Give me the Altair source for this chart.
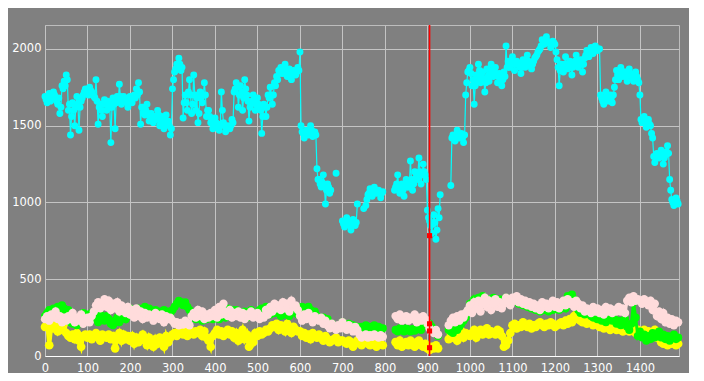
import altair as alt
import pandas as pd

# sample positions (every 5 units from 0 to 1490)
x_values = list(range(0, 1495, 5))
# in-between sample positions for the dense cyan series (2.5, 7.5, ...)
x_half = [v + 2.5 for v in x_values]

# cyan series (top), samples at x_values
cyan = [
    1690, 1650, 1710, 1670, 1720, 1680, 1640, 1580, 1760, 1790,
    1830, 1600, 1440, 1650, 1500, 1690, 1470, 1660, 1700, 1740,
    1710, 1750, 1720, 1690, 1800, 1510, 1640, 1560, 1670, 1600,
    1650, 1390, 1680, 1480, 1690, 1770, 1640, 1690, 1660, 1620,
    1690, 1650, 1700, 1740, 1780, 1510, 1620, 1570, 1640, 1530,
    1580, 1520, 1560, 1600, 1500, 1560, 1480, 1570, 1530, 1440,
    1740, 1850, 1900, 1940, 1860, 1550, 1700, 1600, 1800, 1580,
    1830, 1600, 1520, 1720, 1650, 1780, 1560, 1600, 1520, 1480,
    1550, 1490, 1470, 1720, 1520, 1460, 1500, 1480, 1540, 1720,
    1780, 1620, 1760, 1600, 1800, 1700, 1530, 1640, 1700, 1600,
    1680, 1620, 1450, 1640, 1560, 1700, 1750, 1640, 1780, 1820,
    1860, 1880, 1840, 1900, 1820, 1870, 1800, 1860, 1830, 1880,
    1980, 1460, 1420, 1470, 1440, 1500, 1430, 1460, 1220, 1150,
    1100, 1180, 990, 1120, 1060, None, None, 1190, None, None,
    880, 840, 900, 870, 820, 890, 850, 990, None, None,
    960, 980, 1050, 1090, 1040, 1100, 1060, 1080, 1030, 1070,
    None, None, None, None, None, 1100, 1180, 1060, 1120, 1040,
    1150, 1100, 1270, 1080, 1200, 1150, 1290, 1120, 1250, 1180,
    950, 880, 800, 920, 760, 960, 1050, None, None, None,
    None, 1110, 1440, 1400, 1470, 1420, 1450, 1390, 1700, 1850,
    1880, 1760, 1640, 1830, 1900, 1780, 1850, 1720, 1870, 1790,
    1900, 1820, 1880, 1780, 1840, 1760, 1850, 2020, 1920, 1880,
    1950, 1860, 1920, 1900, 1840, 1930, 1880, 1960, 1900, 1870,
    1920, 1950, 1980, 2000, 2060, 2030, 2080, 2040, 2010, 2050,
    2030, 1930, 1760, 1900, 1850, 1950, 1870, 1920, 1830, 1900,
    1960, 1880, 1930, 1850, 1940, 1990, 1950, 2010, 1970, 2020,
    1990, 2000, 1680, 1640, 1720, 1660, 1700, 1650, 1750, 1860,
    1800, 1880, 1820, 1850, 1790, 1870, 1830, 1790, 1850, 1800,
    1700, 1520, 1560, 1490, 1540, 1500, 1420, 1260, 1320, 1290,
    1340, 1250, 1310, 1370, 1150, 1020, 980, 1030, 990,
]

# cyan series, samples at x_half
cyan_half = [
    1670, 1690, 1660, 1700, 1700, 1660, 1680, 1620, 1740, 1760,
    1800, 1640, 1560, 1600, 1620, 1640, 1620, 1680, 1720, 1720,
    1700, 1730, 1700, 1680, 1660, 1620, 1600, 1640, 1640, 1660,
    1620, 1620, 1640, 1650, 1660, 1690, 1660, 1680, 1650, 1650,
    1660, 1680, 1680, 1700, 1720, 1620, 1580, 1600, 1580, 1560,
    1550, 1560, 1540, 1570, 1530, 1540, 1510, 1530, 1500, 1480,
    1800, 1870, 1880, 1900, 1880, 1650, 1650, 1720, 1700, 1640,
    1700, 1680, 1580, 1680, 1700, 1700, 1600, 1560, 1540, 1500,
    1520, 1510, 1500, 1600, 1500, 1480, 1490, 1500, 1520, 1740,
    1750, 1700, 1720, 1680, 1740, 1660, 1620, 1660, 1660, 1640,
    1640, 1600, 1560, 1620, 1620, 1680, 1700, 1700, 1760, 1800,
    1840, 1860, 1850, 1870, 1850, 1840, 1830, 1840, 1850, 1860,
    1500, 1450, 1440, 1460, 1460, 1470, 1450, 1440, 1150, 1120,
    1130, 1100, 1080, 1100, 1080, None, None, None, None, None,
    860, 880, 860, 850, 860, 860, 870, None, None, None,
    None, 1020, 1060, 1070, 1060, 1080, 1070, 1060, 1060, None,
    None, None, None, None, 1080, 1120, 1100, 1100, 1080, 1100,
    1100, 1120, 1150, 1120, 1160, 1180, 1200, 1180, 1200, 1150,
    900, 850, 860, 870, 820, 900, None, None, None, None,
    None, 1420, 1430, 1440, 1430, 1430, 1420, 1440, 1780, 1860,
    1840, 1800, 1760, 1800, 1860, 1820, 1800, 1780, 1820, 1830,
    1860, 1850, 1840, 1820, 1800, 1800, 1820, 1880, 1900, 1900,
    1920, 1900, 1900, 1880, 1880, 1900, 1920, 1920, 1890, 1900,
    1940, 1960, 1990, 2020, 2040, 2050, 2050, 2040, 2030, 2040,
    1980, 1880, 1860, 1880, 1900, 1900, 1900, 1880, 1880, 1920,
    1920, 1900, 1900, 1900, 1960, 1960, 1980, 1990, 2000, 2000,
    2000, 1700, 1660, 1680, 1680, 1680, 1680, 1700, 1800, 1830,
    1840, 1840, 1850, 1830, 1830, 1840, 1810, 1820, 1820, 1780,
    1540, 1530, 1520, 1520, 1510, 1450, 1300, 1300, 1300, 1300,
    1300, 1290, 1330, 1320, 1080, 1000, 1000, 1010,
]

# light pink series
pink = [
    240, 260, 230, 270, 250, 290, 240, 260, 220, 250,
    230, 260, 240, 280, 220, 250, 230, 270, 210, 240,
    250, 220, 260, 290, 330, 350, 310, 340, 370, 320,
    360, 300, 340, 310, 350, 290, 330, 300, 280, 320,
    270, 300, 250, 310, 260, 290, 240, 280, 250, 270,
    260, 230, 280, 250, 240, 270, 220, 260, 240, 250,
    230, 210, 220, 200, 215, 205, 230, 210, 200, 260,
    280, 250, 300, 260, 290, 240, 270, 250, 280, 260,
    300, 250, 320, 270, 340, 280, 260, 300, 250, 280,
    260, 290, 250, 280, 240, 270, 260, 290, 250, 270,
    280, 240, 260, 250, 300, 270, 320, 290, 340, 310,
    330, 300, 350, 310, 340, 290, 360, 320, 330, 300,
    260, 230, 270, 240, 280, 250, 220, 260, 240, 230,
    250, 210, 230, 200, 180, 210, 190, 170, 200, 180,
    220, 190, 170, 200, 180, 160, 190, 170, 140, 120,
    130, 140, 120, 135, 125, 140, 130, 120, 135, 125,
    None, None, None, None, None, 260, 240, 270, 230, 250,
    260, 230, 250, 240, 270, 220, 250, 230, 260, 240,
    210, 180, 160, 150, 170, 140, None, None, None, None,
    200, 230, 250, 220, 260, 230, 270, 250, 280, 300,
    330, 280, 350, 310, 360, 290, 340, 380, 320, 360,
    300, 340, 370, 320, 350, 310, 340, 380, 350, 330,
    380, 360, 390, 350, 370, 340, 360, 330, 350, 320,
    340, 310, 330, 300, 350, 320, 340, 310, 330, 360,
    320, 350, 310, 340, 360, 330, 370, 340, 350, 320,
    360, 340, 310, 330, 290, 310, 300, 280, 320, 290,
    310, 280, 300, 270, 320, 290, 310, 280, 300, 290,
    320, 290, 310, 280, 360, 380, 350, 390, 360, 370,
    360, 340, 370, 350, 330, 360, 300, 340, 260, 290,
    240, 280, 220, 250, 210, 240, 200, 230, 220,
]

# green series
green = [
    260, 280, 300, 270, 310, 290, 320, 300, 330, 310,
    290, 300, 220, 210, 230, 200, 220, 260, 280, 250,
    270, 250, 280, 260, 240, 220, 270, 250, 230, 260,
    240, 210, 200, 230, 250, 220, 260, 280, 240, 300,
    310, 290, 300, 280, 310, 300, 290, 320, 300, 310,
    290, 280, 300, 270, 290, 280, 300, 270, 290, 280,
    300, 320, 340, 360, 350, 330, 350, 320, 300, 270,
    260, 240, 270, 250, 230, 260, 240, 250, 260, 240,
    250, 270, 240, 260, 280, 250, 310, 290, 300, 280,
    300, 280, 270, 260, 290, 250, 280, 300, 260, 270,
    280, 300, 310, 290, 320, 290, 270, 310, 280, 300,
    280, 260, 290, 270, 280, 260, 290, 300, 280, 270,
    300, 320, 310, 290, 320, 300, 270, 290, 260, 240,
    230, 250, 220, 240, 200, 210, 190, None, 180, 200,
    220, 200, 190, 210, 180, 200, 170, 190, 160, 190,
    180, 200, 170, 190, 160, 200, 180, 190, 170, 180,
    None, None, None, None, None, 170, 160, 180, 170, 160,
    180, 170, 160, 175, 165, 180, 190, 170, 200, 210,
    220, 210, 190, 170, 150, 130, None, None, None, None,
    170, 160, 150, 180, 170, 190, 210, 230, 250, 280,
    340, 300, 370, 330, 380, 350, 390, 360, 340, 370,
    350, 380, 360, 330, 370, 340, 360, 380, 350, 370,
    360, 380, 370, 340, 360, 330, 350, 320, 340, 310,
    330, 300, 320, 290, 310, 300, 320, 290, 310, 300,
    310, 330, 300, 320, 340, 310, 390, 380, 400, 370,
    320, 300, 280, 290, 270, 300, 280, 260, 250, 270,
    240, 260, 230, 250, 220, 240, 250, 230, 240, 210,
    230, 200, 210, 240, 190, 170, 210, 350, 250, 130,
    160, 120, 140, 100, 130, 110, 150, 120, 130, 160,
    120, 140, 110, 130, 100, 120, 140, 110, 120,
]

# yellow series (bottom)
yellow = [
    190, 210, 70, 200, 180, 200, 160, 190, 170, 210,
    150, 130, 120, 140, 110, 150, 100, 60, 130, 140,
    120, 140, 110, 130, 150, 120, 100, 140, 130, 120,
    140, 110, 130, 50, 120, 150, 100, 140, 110, 130,
    100, 130, 80, 120, 90, 110, 140, 100, 70, 120,
    90, 60, 110, 80, 120, 100, 60, 130, 90, 120,
    140, 150, 130, 160, 150, 140, 160, 130, 150, 160,
    140, 160, 150, 170, 130, 160, 120, 100, 60, 130,
    150, 170, 140, 160, 130, 150, 170, 140, 160, 120,
    150, 100, 130, 170, 110, 140, 60, 120, 90, 150,
    130, 160, 140, 150, 170, 160, 180, 200, 190, 210,
    170, 200, 190, 160, 210, 180, 150, 190, 170, 160,
    160, 130, 150, 120, 140, 110, 150, 130, 120, 140,
    120, 100, 130, 110, 90, 100, 110, 120, 90, 100,
    100, 90, 80, 100, 90, 60, 80, 100, 90, 70,
    90, 100, 80, 70, 90, 80, 60, 90, 80, 70,
    None, None, None, None, None, 90, 70, 100, 60, 80,
    90, 70, 100, 80, 60, 90, 100, 70, 60, 80,
    50, 40, 60, 50, 70, 50, None, None, None, None,
    110, 150, 120, 140, 100, 130, 160, 120, 150, 140,
    130, 150, 170, 120, 150, 170, 140, 160, 180, 140,
    160, 150, 140, 170, 160, 130, 60, 70, 100, 150,
    200, 210, 180, 200, 190, 220, 200, 190, 210, 180,
    200, 190, 210, 220, 200, 190, 210, 200, 220, 210,
    190, 200, 210, 220, 200, 230, 210, 240, 220, 260,
    270, 240, 230, 220, 240, 210, 230, 220, 200, 210,
    220, 190, 200, 180, 200, 190, 170, 190, 180, 170,
    180, 170, 160, 180, 170, 160, 180, 170, 150, 170,
    160, 150, 170, 140, 160, 130, 150, 170, 120, 140,
    90, 80, 100, 70, 90, 80, 100, 70, 80,
]

# marker line and red points
marker_x = 905
marker_values = [784, 210, 163, 54]

colors = {"cyan": "#00ffff", "pink": "#ffdcdc", "green": "#00ff00", "yellow": "#ffff00"}


def frame(pairs):
    rows = []
    seg = 0
    for xv, v in pairs:
        if v is None:
            seg += 1
            continue
        rows.append({"x": xv, "v": v, "seg": seg})
    return pd.DataFrame(rows)


def merged(xa, va, xb, vb):
    pairs = list(zip(xa, va)) + list(zip(xb, vb))
    pairs.sort(key=lambda p: p[0])
    return pairs


x_enc = alt.X(
    "x:Q",
    scale=alt.Scale(domain=[0, 1492], nice=False, zero=False),
    axis=alt.Axis(
        values=list(range(0, 1500, 100)),
        format="d",
        title=None,
        grid=True,
        ticks=False,
        tickSize=0,
        domain=True,
        domainColor="#ffffff",
        labelPadding=6,
        labelFlush=False,
    ),
)
y_enc = alt.Y(
    "v:Q",
    scale=alt.Scale(domain=[0, 2156], nice=False),
    axis=alt.Axis(
        values=[0, 500, 1000, 1500, 2000],
        format="d",
        title=None,
        grid=True,
        ticks=False,
        tickSize=0,
        domain=False,
        labelPadding=4,
    ),
)


def series_layers(pairs, color, size=50, stroke=1.0):
    df = frame(pairs)
    base = alt.Chart(df)
    line = base.mark_line(color=color, strokeWidth=stroke).encode(
        x=x_enc, y=y_enc, detail="seg:N", order="x:Q"
    )
    pts = base.mark_circle(color=color, size=size, opacity=1).encode(x=x_enc, y=y_enc)
    return [line, pts]


layers = []
layers += series_layers(list(zip(x_values, yellow)), colors["yellow"], size=75, stroke=4)
layers += series_layers(list(zip(x_values, green)), colors["green"], size=65, stroke=3)
layers += series_layers(list(zip(x_values, pink)), colors["pink"], size=70, stroke=3)
layers += series_layers(
    merged(x_values, cyan, x_half, cyan_half), colors["cyan"], size=48, stroke=1.2
)

rule = alt.Chart(pd.DataFrame({"x": [marker_x]})).mark_rule(
    color="#ff0000", strokeWidth=1.6
).encode(x=x_enc)
red_df = pd.DataFrame({"x": [marker_x] * len(marker_values), "v": marker_values})
red_pts = alt.Chart(red_df).mark_square(color="#ff0000", size=26, opacity=1).encode(
    x=x_enc, y=y_enc
)
layers += [rule, red_pts]

chart = (
    alt.layer(*layers)
    .properties(
        width=634,
        height=331,
        background="#808080",
        padding={"left": 37, "top": 17, "right": 10, "bottom": 17},
        autosize=alt.AutoSizeParams(type="none"),
    )
    .configure_view(stroke="#bdbdbd", strokeWidth=1, fill="#808080")
    .configure_axis(
        gridColor="#c4c4c4",
        gridWidth=1,
        labelColor="#ffffff",
        labelFont="DejaVu Sans",
        labelFontSize=11.5,
    )
)

chart.save("out.html", embed_options={"renderer": "svg", "actions": False})
